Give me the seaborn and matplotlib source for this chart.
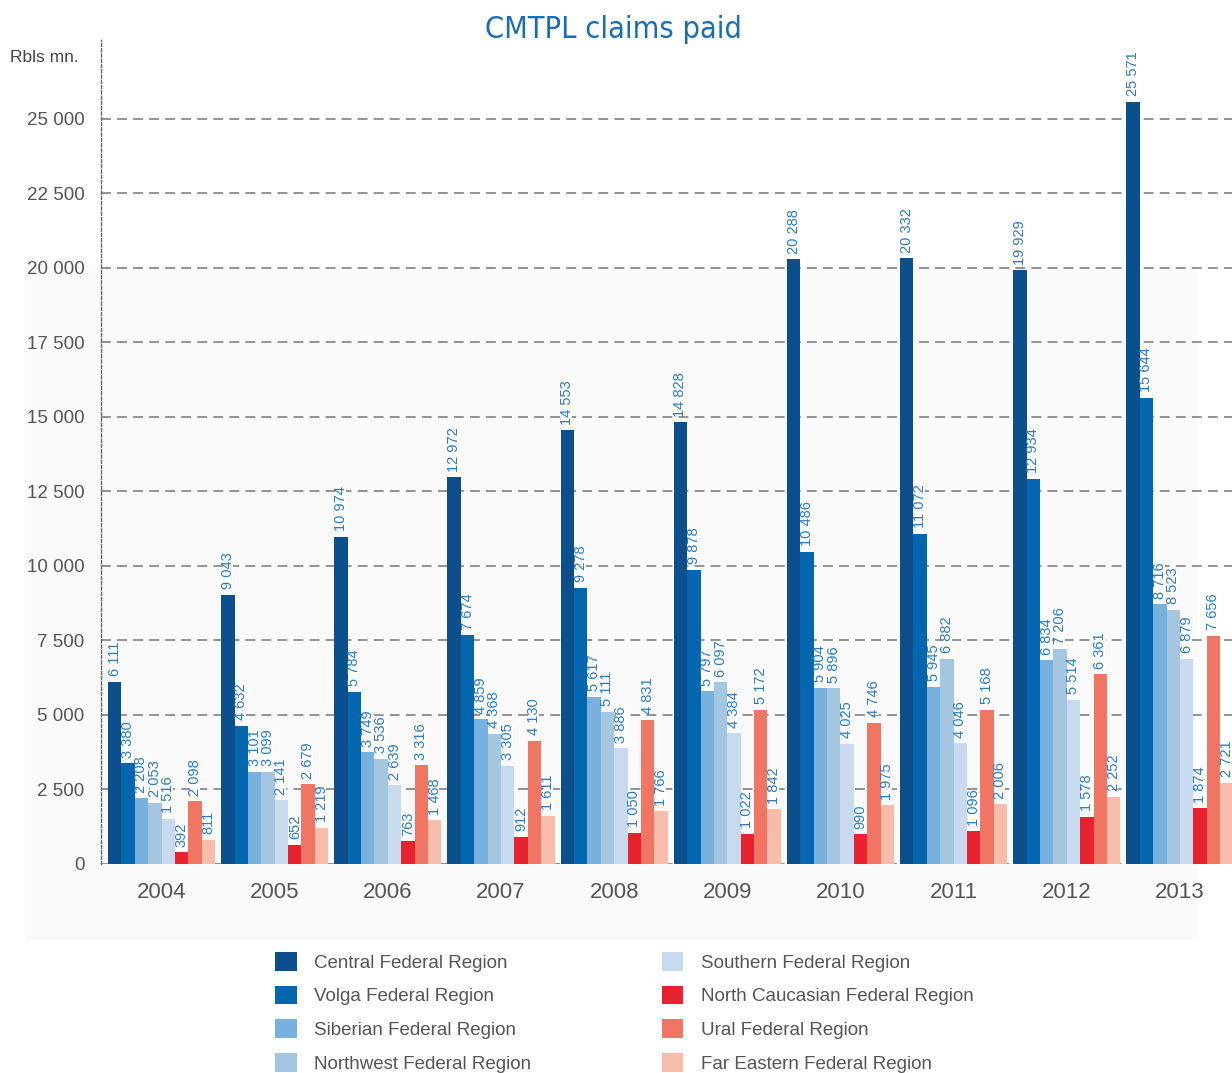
import matplotlib
matplotlib.use("Agg")
import matplotlib.pyplot as plt
from matplotlib.patches import Rectangle
from matplotlib import font_manager
import seaborn as sns
import pandas as pd

years = ["2004", "2005", "2006", "2007", "2008", "2009", "2010", "2011", "2012", "2013"]
regions = [
    "Central Federal Region",
    "Volga Federal Region",
    "Siberian Federal Region",
    "Northwest Federal Region",
    "Southern Federal Region",
    "North Caucasian Federal Region",
    "Ural Federal Region",
    "Far Eastern Federal Region",
]
central = [6111, 9043, 10974, 12972, 14553, 14828, 20288, 20332, 19929, 25571]
volga = [3380, 4632, 5784, 7674, 9278, 9878, 10486, 11072, 12934, 15644]
siberian = [2208, 3101, 3749, 4859, 5617, 5797, 5904, 5945, 6834, 8716]
northwest = [2053, 3099, 3536, 4368, 5111, 6097, 5896, 6882, 7206, 8523]
southern = [1516, 2141, 2639, 3305, 3886, 4384, 4025, 4046, 5514, 6879]
north_caucasian = [392, 652, 763, 912, 1050, 1022, 990, 1096, 1578, 1874]
ural = [2098, 2679, 3316, 4130, 4831, 5172, 4746, 5168, 6361, 7656]
far_eastern = [811, 1219, 1468, 1611, 1766, 1842, 1975, 2006, 2252, 2721]
yticks = [0, 2500, 5000, 7500, 10000, 12500, 15000, 17500, 20000, 22500, 25000]

colors = ["#0b4f8c", "#0466ae", "#78b0de", "#a4c6e0", "#c7daf0",
          "#e8222f", "#f07562", "#f8bcab"]

series = [central, volga, siberian, northwest, southern,
          north_caucasian, ural, far_eastern]
rows = []
for name, vals in zip(regions, series):
    for y, v in zip(years, vals):
        rows.append({"year": y, "region": name, "value": v})
df = pd.DataFrame(rows)

sns.set_theme(style="white")
plt.rcParams["font.family"] = ["Liberation Sans", "DejaVu Sans"]

# narrow face for the title, if one is installed
installed = {(f.name, f.stretch) for f in font_manager.fontManager.ttflist}
title_kw = dict(family=["Liberation Sans", "DejaVu Sans"], fontsize=21.5)
if any(n == "Liberation Sans Narrow" for n, _ in installed):
    title_kw = dict(family=["Liberation Sans Narrow"], fontsize=25)
elif ("DejaVu Sans", "condensed") in installed or ("DejaVu Sans", 75) in installed:
    title_kw = dict(family=["DejaVu Sans"], fontstretch="condensed", fontsize=22)

W, H = 1232, 1073
fig = plt.figure(figsize=(W / 100, H / 100), dpi=100)
fig.patch.set_facecolor("white")

# faint grey panel behind the plotting area
fig.patches.append(Rectangle((25 / W, 1 - 940 / H), (1197 - 25) / W, (940 - 265) / H,
                             transform=fig.transFigure, facecolor="#fafafa",
                             edgecolor="none", zorder=-5))

ax = fig.add_axes([101 / W, 209 / H, 1 - 101 / W, (864 - 40) / H])
ax.patch.set_alpha(0)

sns.barplot(data=df, x="year", y="value", hue="region", hue_order=regions,
            order=years, palette=colors, width=0.946, saturation=1,
            errorbar=None, ax=ax, zorder=3, linewidth=0, edgecolor="none")

label_color = "#2a7cc2"
for cont in ax.containers:
    labels = [f"{int(v):,}".replace(",", " ") for v in cont.datavalues]
    texts = ax.bar_label(cont, labels=labels, rotation=90, padding=4,
                         color=label_color, fontsize=10.5)
    for t in texts:
        # white backing narrower than a bar, so gridlines stop behind the label
        t.set_bbox(dict(boxstyle="square,pad=-0.15", facecolor="white",
                        edgecolor="none"))
        t.set_zorder(4)

ax.set_ylim(0, 27650)
ax.set_xlim(-0.535, 9.46)
ax.set_yticks(yticks)
ax.set_yticklabels([f"{t:,}".replace(",", " ") for t in yticks])
ax.tick_params(axis="y", length=0, pad=12, labelsize=13.5, labelcolor="#555555")
ax.tick_params(axis="x", length=0, pad=13, labelsize=16, labelcolor="#555555")
ax.set_xlabel("")
ax.set_ylabel("")

ax.set_axisbelow(True)
ax.yaxis.grid(True, color="#777777", linewidth=1.1, linestyle=(0, (6.5, 4)))
ax.xaxis.grid(False)
for s in ["top", "right", "bottom"]:
    ax.spines[s].set_visible(False)
ax.spines["left"].set_linestyle((0, (2.2, 1.6)))
ax.spines["left"].set_color("#666666")
ax.spines["left"].set_linewidth(1.0)

handles, labels = ax.get_legend_handles_labels()
ax.get_legend().remove()
fig.legend(handles, labels, ncol=2, loc="upper left",
           bbox_to_anchor=(275 / W, 1 - 952 / H), frameon=False,
           fontsize=13.5, handlelength=1.15, handleheight=1.15,
           handletextpad=0.95, columnspacing=6.95, labelspacing=0.75,
           borderpad=0, borderaxespad=0, labelcolor="#555555")

fig.text(613 / W, 1 - 30 / H, "CMTPL claims paid", ha="center", va="center",
         color="#1a6db5", **title_kw)
fig.text(10 / W, 1 - 57 / H, "Rbls mn.", ha="left", va="center",
         fontsize=12.5, color="#444444")

fig.savefig("out.png", dpi=100, facecolor="white")
